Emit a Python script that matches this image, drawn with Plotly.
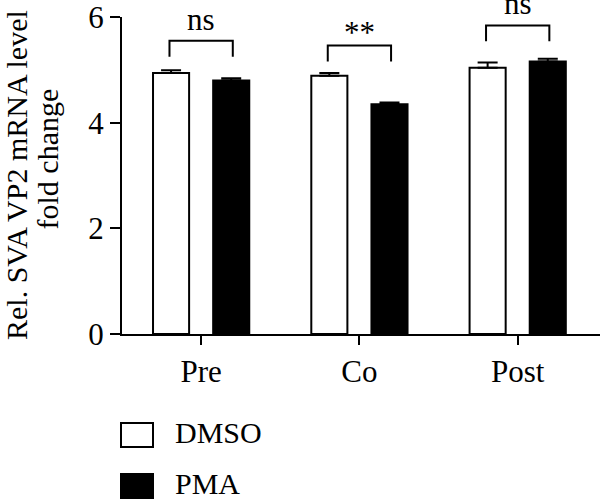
import plotly.graph_objects as go

# ---- data ----
categories = ["Pre", "Co", "Post"]
series_names = ["DMSO", "PMA"]
dmso_mean = [4.94, 4.89, 5.04]
dmso_err = [0.05, 0.05, 0.10]
pma_mean = [4.80, 4.35, 5.16]
pma_err = [0.04, 0.03, 0.05]
sig_labels = ["ns", "**", "ns"]
bracket_top = [5.55, 5.46, 5.84]
y_ticks = [0, 2, 4, 6]

# ---- layout geometry (pixels) ----
W, H = 600, 500
L, R, T, B = 122, 0, 17, 166
PW, PH = W - L - R, H - T - B
FONT = "Liberation Serif"
FS_TITLE = 30
FS_TICK = 31
FS_LEG = 30
FS_SIG = 31


def px(x):
    return (x - L) / PW


def py(y):
    return (H - B - y) / PH


xpos = list(range(len(categories)))

fig = go.Figure()
fig.add_trace(go.Bar(
    x=xpos, y=dmso_mean, name=series_names[0],
    marker=dict(color="white", line=dict(color="black", width=2)),
    error_y=dict(type="data", array=dmso_err, arrayminus=[0] * 3, symmetric=False,
                 color="black", thickness=2, width=10),
    showlegend=False,
))
fig.add_trace(go.Bar(
    x=xpos, y=pma_mean, name=series_names[1],
    marker=dict(color="black", line=dict(color="black", width=2)),
    error_y=dict(type="data", array=pma_err, arrayminus=[0] * 3, symmetric=False,
                 color="black", thickness=2, width=10),
    showlegend=False,
))

shapes = []
annotations = []
leg = 0.30
for i, (lab, top) in enumerate(zip(sig_labels, bracket_top)):
    x0, x1 = i - 0.2, i + 0.2
    shapes.append(dict(type="path", xref="x", yref="y",
                       path=f"M {x0},{top - leg} L {x0},{top} L {x1},{top} L {x1},{top - leg}",
                       line=dict(color="black", width=2)))
    off = 0.04 if lab == "ns" else -0.13
    annotations.append(dict(x=i, y=top + off, xref="x", yref="y", text=lab,
                            showarrow=False, xanchor="center", yanchor="bottom",
                            font=dict(family=FONT, size=FS_SIG, color="black")))

# legend (manual, boxes + labels)
fills = ["white", "black"]
box_tops = [423, 474]
for name, fill, bt in zip(series_names, fills, box_tops):
    shapes.append(dict(type="rect", xref="paper", yref="paper",
                       x0=px(121), x1=px(153), y0=py(bt), y1=py(bt + 24),
                       fillcolor=fill, line=dict(color="black", width=2)))
    annotations.append(dict(x=px(173), y=py(bt + 9), xref="paper", yref="paper",
                            text=name, showarrow=False, xanchor="left", yanchor="middle",
                            font=dict(family=FONT, size=FS_LEG, color="black")))

# y-axis title (two separately placed lines)
annotations.append(dict(x=px(16), y=py(342), xref="paper", yref="paper",
                        text="Rel. SVA VP2 mRNA level", textangle=-90, showarrow=False,
                        xanchor="center", yanchor="bottom",
                        font=dict(family=FONT, size=FS_TITLE, color="black")))
annotations.append(dict(x=px(47), y=py(232), xref="paper", yref="paper",
                        text="fold change", textangle=-90, showarrow=False,
                        xanchor="center", yanchor="bottom",
                        font=dict(family=FONT, size=FS_TITLE, color="black")))

fig.update_layout(
    width=W, height=H,
    margin=dict(l=L, r=R, t=T, b=B, pad=0),
    paper_bgcolor="white", plot_bgcolor="white",
    barmode="group", bargap=0.24, bargroupgap=0.40,
    shapes=shapes, annotations=annotations,
    font=dict(family=FONT, size=FS_TICK, color="black"),
    xaxis=dict(range=[-0.5, 2.52], tickvals=xpos, ticktext=categories,
               showline=True, linecolor="black", linewidth=2,
               ticks="outside", ticklen=9, tickwidth=2, tickcolor="black",
               showgrid=False, zeroline=False,
               tickfont=dict(family=FONT, size=FS_TICK, color="black")),
    yaxis=dict(range=[0, 6], tickvals=y_ticks, ticklabeloverflow="allow",
               showline=True, linecolor="black", linewidth=2,
               ticks="outside", ticklen=10, tickwidth=2, tickcolor="black",
               showgrid=False, zeroline=False,
               tickfont=dict(family=FONT, size=FS_TICK, color="black")),
)

fig.write_html("out.html")
